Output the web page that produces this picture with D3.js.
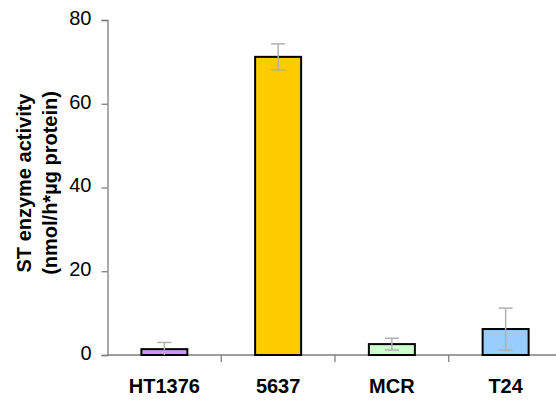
<!DOCTYPE html>
<html>
<head>
<meta charset="utf-8">
<script src="https://cdn.jsdelivr.net/npm/d3@7"></script>
<style>
  body { margin: 0; background: #fff; }
  svg { display: block; font-family: "Liberation Sans", Arial, sans-serif; }
</style>
</head>
<body>
<div id="chart"></div>
<script>
// values
const cellLines = ["HT1376", "5637", "MCR", "T24"];
const activity = [1.4, 71.2, 2.6, 6.2];
const errors = [1.6, 3.1, 1.4, 5.0];
const barColors = ["#cc99ff", "#ffcc00", "#ccffcc", "#99ccff"];
const yTicks = [0, 20, 40, 60, 80];

const width = 556;
const height = 401;

const svg = d3.select("#chart").append("svg")
    .attr("width", width)
    .attr("height", height);

const x = d3.scaleBand()
    .domain(cellLines)
    .range([107.5, 562.5]);

const y = d3.scaleLinear()
    .domain([0, 80])
    .range([355, 20]);

const axisColor = "#7f7f7f";
const barW = 46;

// y axis
const yAxis = svg.append("g")
    .attr("transform", "translate(107.5,0)")
    .call(d3.axisLeft(y).tickValues(yTicks).tickSize(6).tickPadding(10));
yAxis.select(".domain").attr("stroke", axisColor).attr("stroke-width", 1.3);
yAxis.selectAll(".tick line").attr("stroke", axisColor).attr("stroke-width", 1.3);
yAxis.selectAll(".tick text")
    .attr("fill", "#000")
    .attr("dy", "0.22em")
    .style("font-size", "20px")
    .style("font-family", "'Liberation Sans', Arial, sans-serif");

// x axis line with ticks between categories
svg.append("line")
    .attr("x1", 107.5).attr("x2", width)
    .attr("y1", y(0)).attr("y2", y(0))
    .attr("stroke", axisColor).attr("stroke-width", 1.3);

svg.selectAll(".xtick")
    .data(cellLines.slice(1))
    .enter().append("line")
    .attr("class", "xtick")
    .attr("x1", d => x(d)).attr("x2", d => x(d))
    .attr("y1", y(0)).attr("y2", y(0) + 7)
    .attr("stroke", axisColor).attr("stroke-width", 1.3);

svg.selectAll(".xlabel")
    .data(cellLines)
    .enter().append("text")
    .attr("class", "xlabel")
    .attr("x", d => x(d) + x.bandwidth() / 2)
    .attr("y", 393)
    .attr("text-anchor", "middle")
    .style("font-size", "20px")
    .style("font-weight", "bold")
    .text(d => d);

// bars
svg.selectAll(".bar")
    .data(cellLines)
    .enter().append("rect")
    .attr("class", "bar")
    .attr("x", d => x(d) + x.bandwidth() / 2 - barW / 2)
    .attr("width", barW)
    .attr("y", (d, i) => y(activity[i]))
    .attr("height", (d, i) => y(0) - y(activity[i]))
    .attr("fill", (d, i) => barColors[i])
    .attr("stroke", "#000")
    .attr("stroke-width", 2);

// error bars
const errG = svg.selectAll(".err")
    .data(cellLines)
    .enter().append("g")
    .attr("class", "err")
    .attr("stroke", "#b0b0b0")
    .attr("stroke-width", 1.5);

errG.append("line")
    .attr("x1", d => x(d) + x.bandwidth() / 2)
    .attr("x2", d => x(d) + x.bandwidth() / 2)
    .attr("y1", (d, i) => y(activity[i] + errors[i]))
    .attr("y2", (d, i) => y(Math.max(0, activity[i] - errors[i])));

errG.append("line")
    .attr("x1", d => x(d) + x.bandwidth() / 2 - 7)
    .attr("x2", d => x(d) + x.bandwidth() / 2 + 7)
    .attr("y1", (d, i) => y(activity[i] + errors[i]))
    .attr("y2", (d, i) => y(activity[i] + errors[i]));

errG.filter((d, i) => activity[i] - errors[i] > 0).append("line")
    .attr("x1", d => x(d) + x.bandwidth() / 2 - 7)
    .attr("x2", d => x(d) + x.bandwidth() / 2 + 7)
    .attr("y1", d => { const i = cellLines.indexOf(d); return y(activity[i] - errors[i]); })
    .attr("y2", d => { const i = cellLines.indexOf(d); return y(activity[i] - errors[i]); });

// y axis title, two lines
const title = svg.append("text")
    .attr("transform", "translate(31,183) rotate(-90)")
    .attr("text-anchor", "middle")
    .style("font-size", "20px")
    .style("font-weight", "bold");
title.append("tspan").attr("x", 0).attr("dy", 0).text("ST enzyme activity");
title.append("tspan").attr("x", 0).attr("dy", 26).text("(nmol/h*µg protein)");
</script>
</body>
</html>
